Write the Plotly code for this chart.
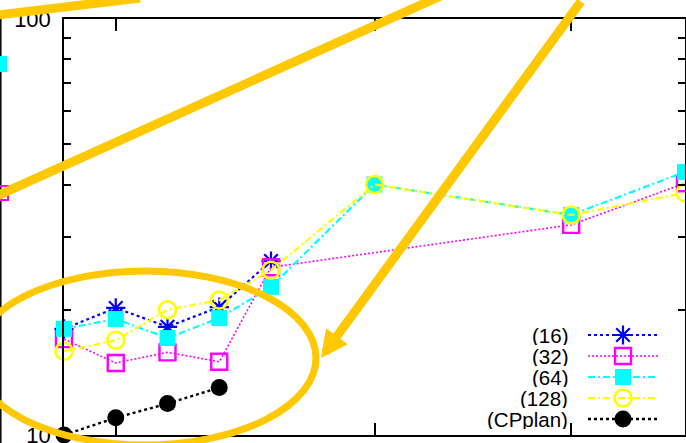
import plotly.graph_objects as go

# ---------------- data ----------------
x_vals = [0, 1, 2, 3, 4, 6, 9.8, 12]
s16 = [18.0, 20.2, 18.2, 20.3, 26.2, None, None, None]
s32 = [17.0, 14.9, 15.8, 15.0, 25.3, None, 32.0, 40.3]
s64 = [18.0, 19.0, 17.1, 19.1, 22.7, 40.0, 33.8, 42.9]
s128 = [15.9, 16.9, 20.0, 21.1, 24.9, 40.0, 33.8, 38.2]
cpplan = [10.0, 11.0, 11.9, 13.0, None, None, None, None]

series_names = ["(16)", "(32)", "(64)", "(128)", "(CPplan)"]
x_ticks = [1, 6, 9.8]
y_major = [10, 100]
y_major_text = ["10", "100"]
y_minor = [20, 30, 40, 50, 60, 70, 80, 90]

# ---------------- styles ----------------
W, H = 686, 443
ML, MR, MT, MB = 64, 1, 19, 8
PW, PH = W - ML - MR, H - MT - MB
FONT = "Liberation Sans, Arial, Helvetica, sans-serif"
GOLD = "#FFC800"

styles = [
    dict(color="#0000FF", dash="3px,3px", lw=2.2,
         marker=dict(symbol="asterisk-open", size=16, color="#0000FF",
                     line=dict(color="#0000FF", width=2.2))),
    dict(color="#FF00FF", dash="2px,2px", lw=1.6,
         marker=dict(symbol="square-open", size=16, color="#FF00FF",
                     line=dict(color="#FF00FF", width=2.4))),
    dict(color="#00FFFF", dash="7px,3px,2px,3px", lw=2.2,
         marker=dict(symbol="square", size=16, color="#00FFFF", line=dict(width=0))),
    dict(color="#FFFF00", dash="7px,3px,2px,3px", lw=2.2,
         marker=dict(symbol="circle-open", size=17, color="#FFFF00",
                     line=dict(color="#FFFF00", width=2.6))),
    dict(color="#000000", dash="3px,3px", lw=2.4,
         marker=dict(symbol="circle", size=17, color="#000000", line=dict(width=0))),
]
all_series = [s16, s32, s64, s128, cpplan]

fig = go.Figure()
for name, ys, st in zip(series_names, all_series, styles):
    fig.add_trace(go.Scatter(
        x=x_vals, y=ys, mode="lines+markers", name=name,
        line=dict(color=st["color"], dash=st["dash"], width=st["lw"]),
        marker=st["marker"], connectgaps=True, cliponaxis=False, showlegend=False,
    ))

# ---------------- custom gnuplot-like key (text left, sample right) ----------------
def paper(xp, yp):
    return (xp - ML) / PW, (MT + PH - yp) / PH

key_row0, key_step = 335, 21
key_text_right, key_l0, key_l1 = 569, 588, 658
for i, (name, st) in enumerate(zip(series_names, styles)):
    yp = key_row0 + i * key_step
    xa, ya = paper(key_l0, yp)
    xb, _ = paper(key_l1, yp)
    fig.add_trace(go.Scatter(
        x=[xa, xb], y=[ya, ya], mode="lines",
        line=dict(color=st["color"], dash=st["dash"], width=st["lw"]),
        xaxis="x2", yaxis="y2", showlegend=False, hoverinfo="skip", cliponaxis=False,
    ))
    fig.add_trace(go.Scatter(
        x=[(xa + xb) / 2], y=[ya], mode="markers", marker=st["marker"],
        xaxis="x2", yaxis="y2", showlegend=False, hoverinfo="skip", cliponaxis=False,
    ))
    xt, _ = paper(key_text_right, yp)
    fig.add_annotation(x=xt, y=ya, xref="paper", yref="paper", text=name,
                       showarrow=False, xanchor="right", yanchor="middle",
                       height=20, valign="middle", borderpad=0,
                       font=dict(family=FONT, size=20.5, color="black"))

axis_common = dict(showgrid=False, zeroline=False, showline=True, linecolor="black",
                   linewidth=1.5, ticks="inside", tickcolor="black", tickwidth=1.5,
                   mirror="ticks", automargin=False)

fig.update_layout(
    width=W, height=H, margin=dict(l=ML, r=MR, t=MT, b=MB, autoexpand=False),
    paper_bgcolor="white", plot_bgcolor="white",
    font=dict(family=FONT, size=21, color="black"),
    xaxis=dict(range=[0, 12], tickvals=x_ticks, ticklen=12, showticklabels=False,
               **axis_common),
    yaxis=dict(type="log", range=[1, 2], tickvals=y_major, ticktext=y_major_text,
               ticklen=12, ticklabelstandoff=7, ticklabeloverflow="allow",
               tickfont=dict(family=FONT, size=22, color="black"),
               minor=dict(tickvals=y_minor, ticks="inside", ticklen=7,
                          tickcolor="black", tickwidth=1.5, showgrid=False),
               **axis_common),
    xaxis2=dict(range=[0, 1], overlaying="x", visible=False),
    yaxis2=dict(range=[0, 1], overlaying="y", visible=False),
)

# ---------------- decorations (fragments of the outer figure + zoom callout) ----------------
shapes = []
def seg(x0, y0, x1, y1, color, width):
    a, b = paper(x0, y0)
    c, d = paper(x1, y1)
    shapes.append(dict(type="line", xref="paper", yref="paper", x0=a, y0=b, x1=c, y1=d,
                       line=dict(color=color, width=width), layer="above"))

def rect(x0, y0, x1, y1, line_color, fill, width=0):
    a, b = paper(x0, y0)
    c, d = paper(x1, y1)
    shapes.append(dict(type="rect", xref="paper", yref="paper", x0=a, y0=b, x1=c, y1=d,
                       line=dict(color=line_color, width=width), fillcolor=fill, layer="above"))

# outer figure fragments at the left edge
seg(0.8, 18, 0.8, 443, "black", 1.5)
rect(-2, 56, 7, 72, "#00FFFF", "#00FFFF")
rect(-8, 186, 8, 200, "#FF00FF", "rgba(0,0,0,0)", 2)

# callout lines
seg(-10, 16, 140, -2, GOLD, 9)
seg(-10, 199, 445, -6, GOLD, 9)
# ellipse
ex0, ey0 = paper(145 - 171, 358 - 87)
ex1, ey1 = paper(145 + 171, 358 + 87)
shapes.append(dict(type="circle", xref="paper", yref="paper", x0=ex0, y0=ey0, x1=ex1, y1=ey1,
                   line=dict(color=GOLD, width=7), fillcolor="rgba(0,0,0,0)", layer="above"))
fig.update_layout(shapes=shapes)

tx, ty = paper(321, 358)
fig.add_annotation(x=tx, y=ty, xref="paper", yref="paper", text="", showarrow=True,
                   ax=261, ay=-373, arrowcolor=GOLD, arrowwidth=9, arrowhead=2,
                   arrowsize=0.6)

fig.write_html("out.html", config={"displayModeBar": False},
               post_script="document.body.style.margin='0';document.body.style.overflow='hidden';")
